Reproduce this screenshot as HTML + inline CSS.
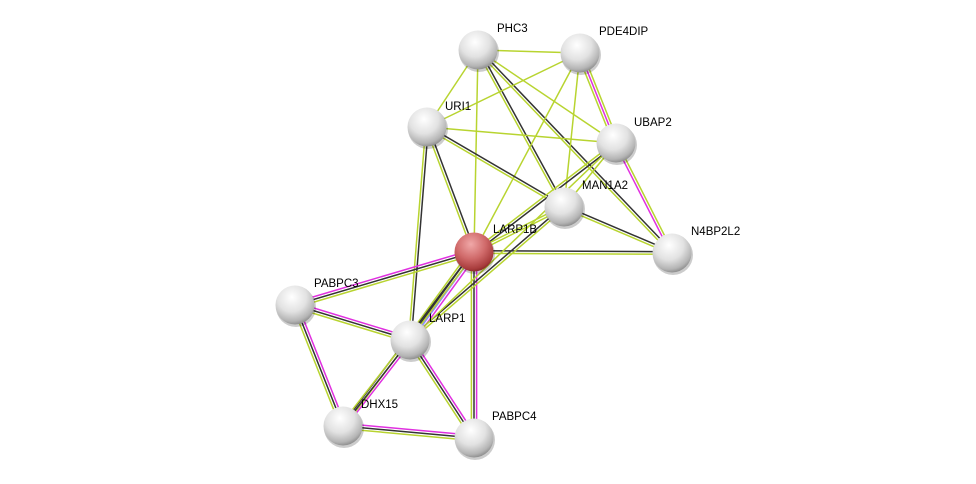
<!DOCTYPE html>
<html><head><meta charset="utf-8"><style>
html,body{margin:0;padding:0;background:#fff;width:976px;height:484px;overflow:hidden}
svg text{font-family:"Liberation Sans",sans-serif;font-size:11.5px;fill:#000}
</style></head><body>
<svg id="s" width="976" height="484" viewBox="0 0 976 484" xmlns="http://www.w3.org/2000/svg">
<defs>
<radialGradient id="g" cx="0.42" cy="0.3" r="0.75">
<stop offset="0" stop-color="#ffffff"/><stop offset="0.5" stop-color="#e2e2e2"/><stop offset="0.82" stop-color="#b4b4b4"/><stop offset="1" stop-color="#7e7e7e"/>
</radialGradient>
<radialGradient id="r" cx="0.42" cy="0.3" r="0.75">
<stop offset="0" stop-color="#f0a8a8"/><stop offset="0.5" stop-color="#d06a6a"/><stop offset="0.85" stop-color="#a83c3c"/><stop offset="1" stop-color="#782020"/>
</radialGradient>
</defs>
<g id="edges"></g>
<g id="nodes"></g>
<text x="497" y="32">PHC3</text>
<text x="599" y="35">PDE4DIP</text>
<text x="445" y="110">URI1</text>
<text x="634" y="126">UBAP2</text>
<text x="582" y="189">MAN1A2</text>
<text x="493" y="233">LARP1B</text>
<text x="691" y="235">N4BP2L2</text>
<text x="314" y="287">PABPC3</text>
<text x="429" y="322">LARP1</text>
<text x="361" y="408">DHX15</text>
<text x="492" y="420">PABPC4</text>
</svg>
<script>
var N={PHC3:[478,50],PDE:[580,53],URI:[427,127],UB:[616,143],MAN:[564,207],LB:[474,252],N4:[672,253],P3:[295,305],L1:[410,340],DH:[343,426],P4:[474,438]};
var C={Y:"#b8d430",M:"#e030e0",K:"#333333",B:"#8888ff"};
var E=[["PHC3","PDE","Y"],["PHC3","URI","Y"],["PHC3","LB","Y"],["PHC3","MAN","KY"],["PHC3","UB","Y"],["PHC3","N4","KY"],
["PDE","URI","Y"],["PDE","LB","Y"],["PDE","MAN","Y"],["PDE","UB","YMY"],["URI","UB","Y"],["URI","MAN","KY"],["URI","LB","KY"],["URI","L1","KY"],
["UB","N4","YM"],["UB","MAN","Y"],["UB","LB","KY"],["MAN","N4","KY"],["MAN","LB","YY"],["LB","N4","KY"],["LB","P3","YKM"],["LB","L1","MBKY"],
["LB","P4","MKY"],["LB","DH","YK"],["MAN","L1","YK"],["UB","L1","Y"],["P3","L1","MKY"],["P3","DH","MKY"],["L1","DH","MKY"],["L1","P4","MKY"],["DH","P4","MKY"]];
var ns="http://www.w3.org/2000/svg",eg=document.getElementById("edges"),ng=document.getElementById("nodes");
E.forEach(function(e){var a=N[e[0]],b=N[e[1]],dx=b[0]-a[0],dy=b[1]-a[1],L=Math.hypot(dx,dy),px=-dy/L,py=dx/L,n=e[2].length;
for(var i=0;i<n;i++){var o=(i-(n-1)/2)*2.6;var l=document.createElementNS(ns,"line");
l.setAttribute("x1",a[0]+px*o);l.setAttribute("y1",a[1]+py*o);l.setAttribute("x2",b[0]+px*o);l.setAttribute("y2",b[1]+py*o);
l.setAttribute("stroke",C[e[2][i]]);l.setAttribute("stroke-width","1.5");eg.appendChild(l);}});
for(var k in N){var p=N[k];var sh=document.createElementNS(ns,"circle");sh.setAttribute("cx",p[0]+1);sh.setAttribute("cy",p[1]+2);sh.setAttribute("r",20);sh.setAttribute("fill","rgba(0,0,0,0.2)");ng.appendChild(sh);
var c=document.createElementNS(ns,"circle");c.setAttribute("cx",p[0]);c.setAttribute("cy",p[1]);c.setAttribute("r",19.5);c.setAttribute("fill",k=="LB"?"url(#r)":"url(#g)");ng.appendChild(c);}
</script>
</body></html>
